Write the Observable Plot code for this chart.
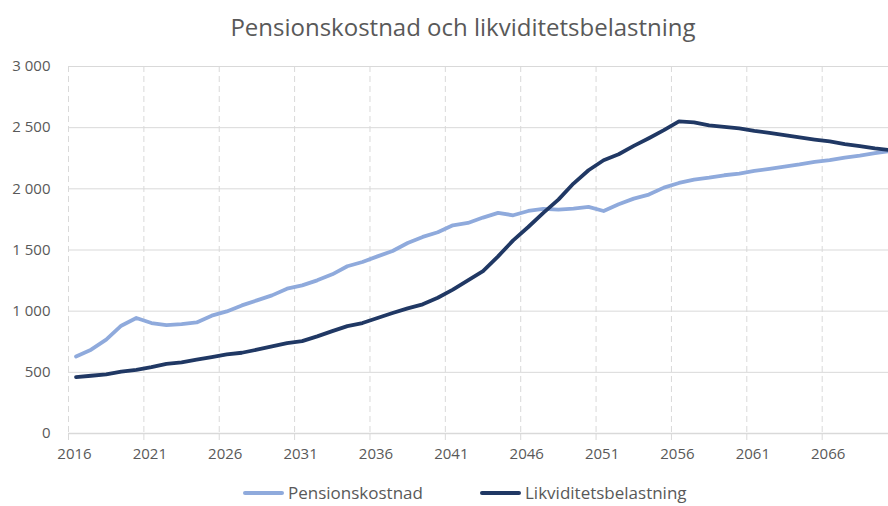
<!DOCTYPE html>
<html>
<head>
<meta charset="utf-8">
<script src="https://cdn.jsdelivr.net/npm/d3@7"></script>
<script src="https://cdn.jsdelivr.net/npm/@observablehq/plot@0.6"></script>
<style>
  html, body { margin: 0; padding: 0; background: #fff; }
  body { width: 888px; height: 506px; overflow: hidden; position: relative; font-family: "Open Sans", sans-serif; color: #595959; }
  #title { position: absolute; left: 19px; top: 11px; width: 888px; text-align: center; font-size: 24px; line-height: 32px; white-space: nowrap; }
  #chart { position: absolute; left: 0; top: 52px; }
  #legend { position: absolute; left: 0; top: 463px; width: 888px; height: 43px; font-size: 17px; }
  .item { position: absolute; top: 21px; display: flex; align-items: center; white-space: nowrap; line-height: 17px; height: 17px; }
  .sw { display: inline-block; width: 41px; height: 4px; border-radius: 2px; margin-right: 4px; }
</style>
</head>
<body>
<div id="title">Pensionskostnad och likviditetsbelastning</div>
<div id="chart"></div>
<div id="legend"></div>
<script>
const years = d3.range(2016, 2071);
const pensionskostnad = [
  630, 685, 767, 881, 944, 903, 886, 894, 908, 963,
  998, 1047, 1088, 1129, 1184, 1211, 1252, 1301, 1367, 1402,
  1448, 1492, 1557, 1607, 1645, 1702, 1721, 1765, 1803, 1784,
  1819, 1836, 1830, 1839, 1852, 1819, 1874, 1920, 1953, 2010,
  2048, 2076, 2092, 2111, 2125, 2146, 2163, 2182, 2199, 2220,
  2234, 2256, 2272, 2291, 2308
];
const likviditetsbelastning = [
  461, 472, 483, 505, 521, 543, 570, 581, 603, 625,
  646, 660, 685, 712, 739, 755, 794, 837, 878, 903,
  944, 985, 1023, 1056, 1110, 1176, 1252, 1328, 1448, 1579,
  1688, 1803, 1912, 2043, 2152, 2234, 2283, 2351, 2414, 2480,
  2551, 2543, 2518, 2507, 2494, 2474, 2458, 2439, 2420, 2403,
  2387, 2365, 2349, 2330, 2316
];
const seriesNames = ["Pensionskostnad", "Likviditetsbelastning"];
const seriesColors = ["#8FAADC", "#203864"];
const xTickYears = [2016, 2021, 2026, 2031, 2036, 2041, 2046, 2051, 2056, 2061, 2066];
const yTickValues = [0, 500, 1000, 1500, 2000, 2500, 3000];

const fmt = d3.formatLocale({decimal: ",", thousands: "\u00a0", grouping: [3]}).format(",d");

const data = [];
years.forEach((yr, i) => {
  data.push({year: yr, series: seriesNames[0], value: pensionskostnad[i]});
});
years.forEach((yr, i) => {
  data.push({year: yr, series: seriesNames[1], value: likviditetsbelastning[i]});
});

const chart = Plot.plot({
  width: 888,
  height: 411,
  marginTop: 14,
  marginLeft: 68,
  marginRight: 0,
  marginBottom: 30,
  style: {fontFamily: "Open Sans, sans-serif", fontSize: "15px", color: "#595959", background: "transparent"},
  x: {domain: [2016, 2070.4]},
  y: {domain: [0, 3000]},
  color: {domain: seriesNames, range: seriesColors},
  marks: [
    Plot.gridY(yTickValues, {stroke: "#d9d9d9", strokeOpacity: 1, strokeWidth: 1}),
    Plot.gridX(xTickYears, {stroke: "#d9d9d9", strokeOpacity: 1, strokeWidth: 1, strokeDasharray: "6,4"}),
    Plot.ruleY([0], {stroke: "#d9d9d9", strokeWidth: 1.5}),
    Plot.axisX(xTickYears, {tickSize: 7, stroke: "#d9d9d9", tickFormat: () => "", label: null}),
    Plot.axisX(xTickYears, {tickSize: 0, tickPadding: 15, dx: 6, fill: "#595959", tickFormat: d => String(d), label: null, fontSize: 15}),
    Plot.axisY(yTickValues, {tickSize: 0, tickPadding: 18, fill: "#595959", tickFormat: fmt, label: null, fontSize: 15}),
    Plot.line(data, {x: d => d.year + 0.5, y: "value", z: "series", stroke: "series", strokeWidth: 3.8, strokeLinejoin: "round", strokeLinecap: "round", clip: true})
  ]
});
document.getElementById("chart").appendChild(chart);

const legend = document.getElementById("legend");
const legendX = [243, 480];
seriesNames.forEach((name, i) => {
  const item = document.createElement("div");
  item.className = "item";
  item.style.left = legendX[i] + "px";
  const sw = document.createElement("span");
  sw.className = "sw";
  sw.style.background = seriesColors[i];
  item.appendChild(sw);
  const t = document.createElement("span");
  t.textContent = name;
  item.appendChild(t);
  legend.appendChild(item);
});
</script>
</body>
</html>
